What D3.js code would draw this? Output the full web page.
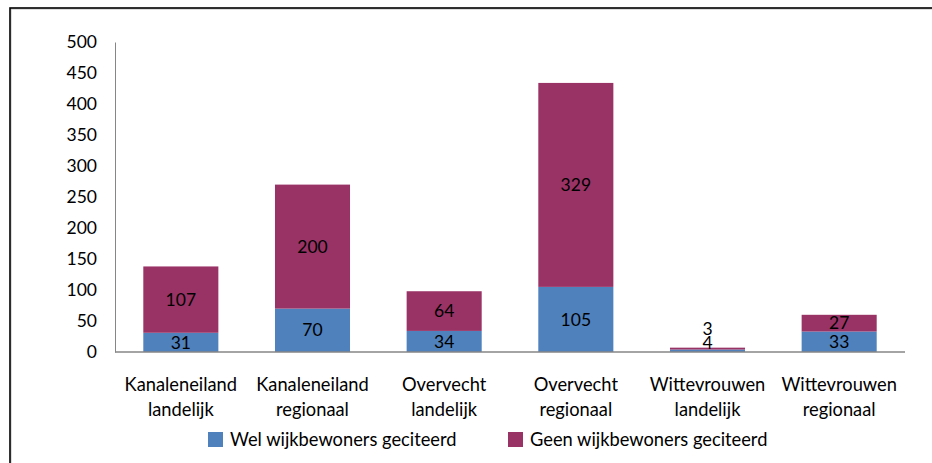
<!DOCTYPE html>
<html><head><meta charset="utf-8">
<script src="https://cdn.jsdelivr.net/npm/d3@7"></script>
<style>body{margin:0;background:#fff}svg{display:block}text{font-family:Lato,"Open Sans",sans-serif;fill:#000}</style>
</head><body>
<svg id="c" width="932" height="463"></svg>
<script>
const categories = [["Kanaleneiland","landelijk"],["Kanaleneiland","regionaal"],["Overvecht","landelijk"],["Overvecht","regionaal"],["Wittevrouwen","landelijk"],["Wittevrouwen","regionaal"]];
const welValues = [31, 70, 34, 105, 4, 33];
const geenValues = [107, 200, 64, 329, 3, 27];
const seriesNames = ["Wel wijkbewoners geciteerd", "Geen wijkbewoners geciteerd"];
const yTicks = [0, 50, 100, 150, 200, 250, 300, 350, 400, 450, 500];
const colors = ["#4F81BD", "#993366"];

const svg = d3.select("#c");
const L = 115, R = 905, T = 42, B = 352;
const x = d3.scaleBand().domain(d3.range(categories.length)).range([L, R]).paddingInner(0.43).paddingOuter(0.215);
const y = d3.scaleLinear().domain([0, 500]).range([B, T]);

// frame
svg.append("rect").attr("x", 11).attr("y", 9).attr("width", 960).attr("height", 500).attr("fill", "none").attr("stroke", "#bbb").attr("stroke-width", 1);
svg.append("rect").attr("x", 10).attr("y", 8).attr("width", 960).attr("height", 500).attr("fill", "none").attr("stroke", "#000").attr("stroke-width", 1.6);

// y axis
const ya = svg.append("g").attr("transform", `translate(${L},0)`).call(d3.axisLeft(y).tickValues(yTicks).tickSize(0).tickPadding(18));
ya.select(".domain").attr("stroke", "#868686");
ya.selectAll("text").style("font-family", "Lato").style("font-size", "17.5px").attr("fill", "#000");

const stack = categories.map((c, i) => ({i, wel: welValues[i], geen: geenValues[i]}));
const g = svg.append("g");
g.selectAll(".wel").data(stack).join("rect")
  .attr("x", d => x(d.i)).attr("width", x.bandwidth())
  .attr("y", d => y(d.wel)).attr("height", d => y(0) - y(d.wel)).attr("fill", colors[0]);
g.selectAll(".geen").data(stack).join("rect")
  .attr("x", d => x(d.i)).attr("width", x.bandwidth())
  .attr("y", d => y(d.wel + d.geen)).attr("height", d => y(d.wel) - y(d.wel + d.geen)).attr("fill", colors[1]);

// x axis line
svg.append("line").attr("x1", L).attr("x2", R).attr("y1", B).attr("y2", B).attr("stroke", "#868686").attr("stroke-width", 1.3);

// data labels
stack.forEach(d => {
  const cx = x(d.i) + x.bandwidth() / 2;
  const wy = Math.min((y(0) + y(d.wel)) / 2, B - 9);
  const gy = Math.min((y(d.wel) + y(d.wel + d.geen)) / 2, wy - 14);
  svg.append("text").attr("x", cx).attr("y", wy).attr("dy", "0.35em").attr("text-anchor", "middle").style("font-size", "17.5px").text(d.wel);
  svg.append("text").attr("x", cx).attr("y", gy).attr("dy", "0.35em").attr("text-anchor", "middle").style("font-size", "17.5px").text(d.geen);
});

// category labels
categories.forEach((c, i) => {
  const cx = x(i) + x.bandwidth() / 2;
  const t = svg.append("text").attr("text-anchor", "middle").style("font-size", "18.3px");
  t.append("tspan").attr("x", cx).attr("y", 391).text(c[0]);
  t.append("tspan").attr("x", cx).attr("y", 416).text(c[1]);
});

// legend
const legX = [208, 508];
seriesNames.forEach((n, i) => {
  svg.append("rect").attr("x", legX[i]).attr("y", 432).attr("width", 15).attr("height", 15).attr("fill", colors[i]);
  svg.append("text").attr("x", legX[i] + 22).attr("y", 446).style("font-size", "18.3px").text(n);
});
</script>
</body></html>
